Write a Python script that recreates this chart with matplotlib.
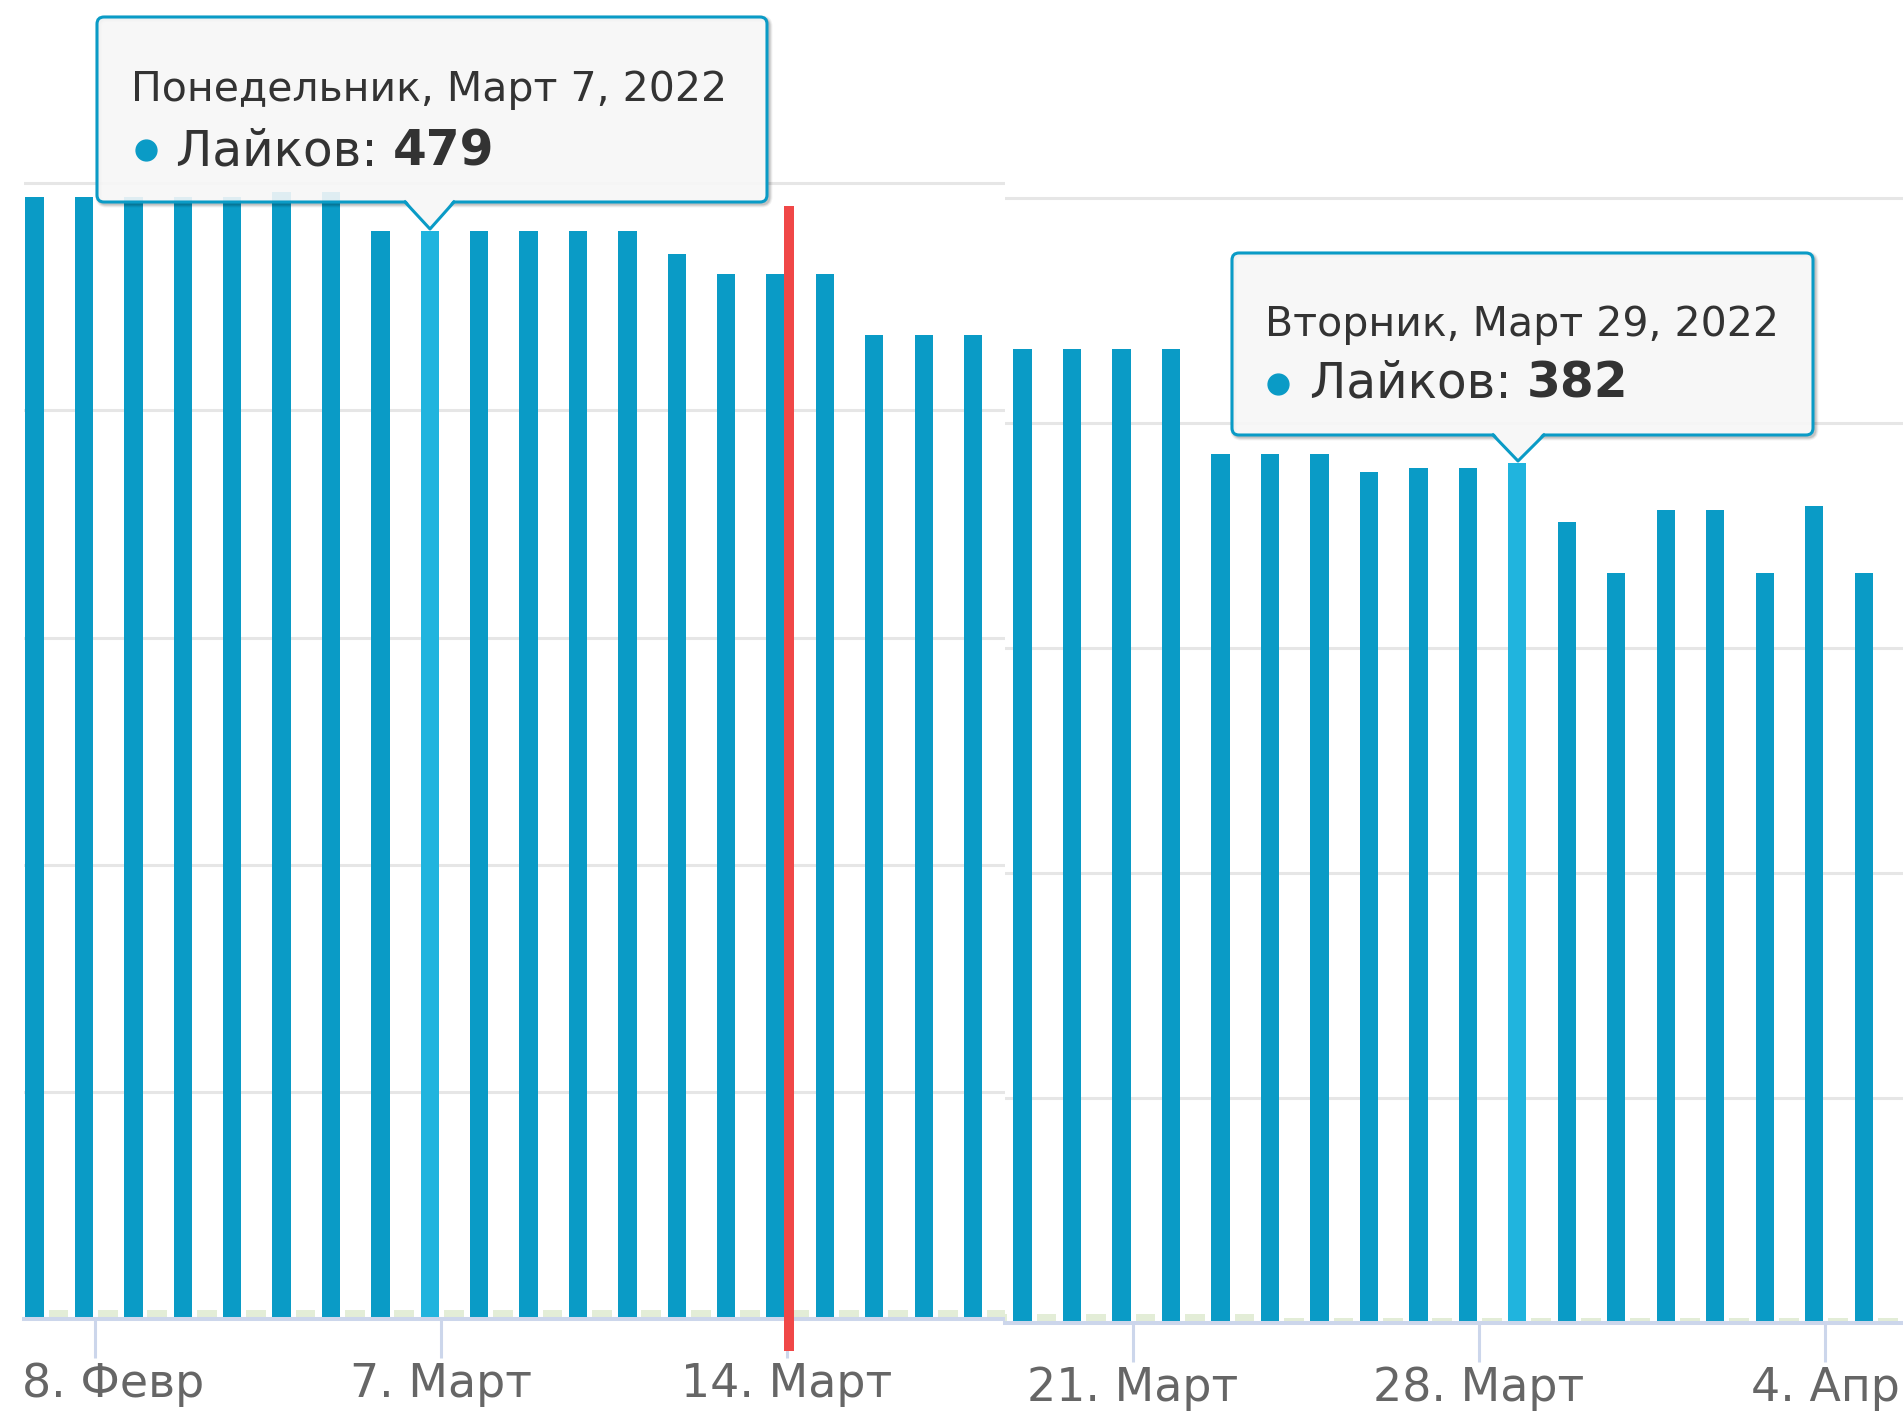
import matplotlib
matplotlib.use("Agg")

import matplotlib.dates as mdates
import matplotlib.pyplot as plt
import matplotlib.transforms as mtransforms
import pandas as pd
from matplotlib.lines import Line2D
from matplotlib.patches import FancyBboxPatch, Polygon
from matplotlib.text import Annotation


W, H = 1903, 1414

# one slot per day, Feb 27 .. Apr 5 2022
days = pd.date_range("2022-02-27", "2022-04-05", freq="D")

likes = [
    494, 494, 494, 494, 494, 496, 496, 479, 479, 479,
    479, 479, 479, 469, 460, 460, 460, 433, 433, 433,
    433, 433, 433, 433, 386, 386, 386, 378, 380, 380,
    382, 356, 333, 361, 361, 333, 363, 333,
]
# faint second series drawn next to each blue column
other = [
    4, 4, 4, 4, 4, 4, 4, 4, 4, 4,
    4, 4, 4, 4, 4, 4, 4, 4, 4, 4,
    4, 4, 4, 4, 4, 2, 2, 2, 2, 2,
    2, 2, 2, 2, 2, 2, 2, 2,
]

highlight_days = ["2022-03-07", "2022-03-29"]
tooltip_titles = ["Понедельник, Март 7, 2022", "Вторник, Март 29, 2022"]
value_label = "Лайков: "

left_ticks = ["2022-02-28", "2022-03-07", "2022-03-14"]
left_tick_labels = ["8. Февр", "7. Март", "14. Март"]
right_ticks = ["2022-03-21", "2022-03-28", "2022-04-04"]
right_tick_labels = ["21. Март", "28. Март", "4. Апр"]

marker_day = "2022-03-14"
marker_span = (-14, 490)

BLUE = "#0A9BC6"
BLUE_HI = "#20B4DE"
GREEN = "#E3EDD7"
GRID = "#E6E6E6"
AXIS = "#CCD6EB"
RED = "#F04747"
TIP_BG = (0.969, 0.969, 0.969)

x = mdates.date2num(days)
hl = set(mdates.date2num(pd.to_datetime(highlight_days)))
colors = [BLUE_HI if v in hl else BLUE for v in x]


def style_axis(ax, ymax, ticks, labels):
    ax.bar(x - 0.225, likes, width=0.37, color=colors, zorder=2)
    ax.bar(x + 0.26, other, width=0.40, color=GREEN, zorder=2)
    ax.set_ylim(0, ymax)
    ax.set_yticks([0, 100, 200, 300, 400, 500])
    ax.yaxis.grid(True, color=GRID, linewidth=2.2)
    ax.set_axisbelow(True)
    ax.tick_params(axis="y", length=0, labelleft=False)
    for side in ("top", "left", "right"):
        ax.spines[side].set_visible(False)
    ax.spines["bottom"].set_color(AXIS)
    ax.spines["bottom"].set_linewidth(2.9)
    ax.set_xticks(mdates.date2num(pd.to_datetime(ticks)))
    ax.set_xticklabels(labels)
    ax.tick_params(axis="x", length=28, width=2.2, color=AXIS,
                   labelsize=33, labelcolor="#666666", pad=3)


fig = plt.figure(figsize=(W / 100, H / 100), dpi=100)

# the picture is two screenshots stitched at x=1005 px, with slightly different y scale
ax_l = fig.add_axes([24 / W, 1 - 1319.3 / H, (1005 - 24) / W, 1319.3 / H])
ax_r = fig.add_axes([1005 / W, 1 - 1322.7 / H, (W - 1005) / W, 1322.7 / H])

style_axis(ax_l, 580.6, left_ticks, left_tick_labels)
style_axis(ax_r, 587.9, right_ticks, right_tick_labels)

split = mdates.date2num(pd.Timestamp("2022-03-18")) + 0.42
ax_l.set_xlim(x[0] - 0.44, split)
ax_r.set_xlim(split, x[-1] + 0.57)

# first label is cut at the left border in the original
first = ax_l.get_xticklabels()[0]
first.set_visible(False)
ax_l.annotate(left_tick_labels[0], xy=(mdates.date2num(pd.Timestamp(left_ticks[0])), 0),
              xycoords=("data", "axes fraction"), xytext=(13, -31),
              textcoords="offset points", ha="center", va="top",
              fontsize=33, color="#666666", annotation_clip=False)

xm = mdates.date2num(pd.Timestamp(marker_day))
ax_l.plot([xm + 0.05, xm + 0.05], marker_span, color=RED, linewidth=7.2,
          solid_capstyle="butt", clip_on=False, zorder=5)

ident = mtransforms.IdentityTransform()


def draw_tooltip(box, base, tip, title_pos, bullet_pos, value_pos, title, value):
    left, top, right, bottom = box
    # shadow as offset strokes, like the original callout
    for lw, a in ((5.0, 0.05), (3.5, 0.08), (2.0, 0.12)):
        fig.add_artist(FancyBboxPatch(
            (left + 2, H - bottom - 2), right - left, bottom - top,
            boxstyle="round,pad=0,rounding_size=7", transform=ident,
            facecolor="none", edgecolor="black", linewidth=lw, alpha=a, zorder=9))
    fig.add_artist(FancyBboxPatch(
        (left, H - bottom), right - left, bottom - top,
        boxstyle="round,pad=0,rounding_size=7", transform=ident,
        facecolor=TIP_BG + (0.9,), edgecolor=BLUE,
        linewidth=2.2, zorder=10))
    tri = [(base[0], H - bottom + 3), (tip[0], H - tip[1]), (base[1], H - bottom + 3)]
    fig.add_artist(Polygon(tri, closed=True, transform=ident,
                           facecolor=TIP_BG, edgecolor="none", zorder=11))
    fig.add_artist(Line2D([base[0], tip[0], base[1]],
                          [H - bottom, H - tip[1], H - bottom],
                          transform=ident, color=BLUE, linewidth=2.2, zorder=12))
    fig.text(title_pos[0], H - title_pos[1], title, transform=ident,
             fontsize=29.5, color="#333333", va="baseline", ha="left", zorder=13)
    fig.add_artist(Line2D([bullet_pos[0]], [H - bullet_pos[1]], transform=ident,
                          marker="o", markersize=15, color=BLUE,
                          linestyle="none", zorder=13))
    t1 = fig.text(value_pos[0], H - value_pos[1], value_label, transform=ident,
                  fontsize=35, color="#333333", va="bottom", ha="left", zorder=13)
    fig.add_artist(Annotation(str(value), xy=(1, 0), xycoords=t1,
                              xytext=(0, 0), textcoords="offset points",
                              va="bottom", ha="left", fontsize=35,
                              fontweight="bold", color="#333333", zorder=13))


idx = [list(x).index(v) for v in sorted(hl)]
draw_tooltip((97, 17, 767, 202), (405, 454), (430, 229), (131, 101), (146, 150),
             (176, 175), tooltip_titles[0], likes[idx[0]])
draw_tooltip((1232, 253, 1813, 435), (1493, 1544), (1518, 461), (1265, 336),
             (1278, 384), (1310, 408), tooltip_titles[1], likes[idx[1]])

fig.savefig("out.png", dpi=100)
